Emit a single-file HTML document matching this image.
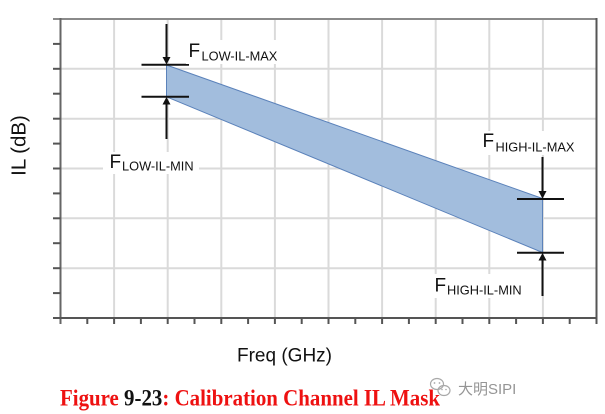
<!DOCTYPE html>
<html><head><meta charset="utf-8"><style>
html,body{margin:0;padding:0;background:#fff;}
svg{display:block;}
</style></head><body>
<svg width="605" height="414" viewBox="0 0 605 414" xmlns="http://www.w3.org/2000/svg">
<rect width="605" height="414" fill="#fff"/>
<!-- gridlines -->
<g stroke="#dadada" stroke-width="2">
<line x1="114.1" y1="19" x2="114.1" y2="318"/>
<line x1="167.7" y1="19" x2="167.7" y2="318"/>
<line x1="221.3" y1="19" x2="221.3" y2="318"/>
<line x1="274.9" y1="19" x2="274.9" y2="318"/>
<line x1="328.5" y1="19" x2="328.5" y2="318"/>
<line x1="382.1" y1="19" x2="382.1" y2="318"/>
<line x1="435.7" y1="19" x2="435.7" y2="318"/>
<line x1="489.3" y1="19" x2="489.3" y2="318"/>
<line x1="542.9" y1="19" x2="542.9" y2="318"/>
<line x1="60.5" y1="68.8" x2="596.5" y2="68.8"/>
<line x1="60.5" y1="118.7" x2="596.5" y2="118.7"/>
<line x1="60.5" y1="168.5" x2="596.5" y2="168.5"/>
<line x1="60.5" y1="218.3" x2="596.5" y2="218.3"/>
<line x1="60.5" y1="268.2" x2="596.5" y2="268.2"/>
</g>
<!-- frame -->
<line x1="53" y1="19" x2="596.5" y2="19" stroke="#8a8a8a" stroke-width="2"/>
<line x1="596.5" y1="18" x2="596.5" y2="324" stroke="#555" stroke-width="2"/>
<line x1="60.5" y1="18" x2="60.5" y2="324" stroke="#666" stroke-width="2"/>
<line x1="53" y1="318" x2="597.5" y2="318" stroke="#555" stroke-width="2"/>
<!-- y ticks -->
<g stroke="#555" stroke-width="2">
<line x1="53" y1="43.9" x2="60.5" y2="43.9"/>
<line x1="53" y1="68.8" x2="60.5" y2="68.8"/>
<line x1="53" y1="93.7" x2="60.5" y2="93.7"/>
<line x1="53" y1="118.7" x2="60.5" y2="118.7"/>
<line x1="53" y1="143.6" x2="60.5" y2="143.6"/>
<line x1="53" y1="168.5" x2="60.5" y2="168.5"/>
<line x1="53" y1="193.4" x2="60.5" y2="193.4"/>
<line x1="53" y1="218.3" x2="60.5" y2="218.3"/>
<line x1="53" y1="243.2" x2="60.5" y2="243.2"/>
<line x1="53" y1="268.2" x2="60.5" y2="268.2"/>
<line x1="53" y1="293.1" x2="60.5" y2="293.1"/>
</g>
<!-- x ticks -->
<g stroke="#555" stroke-width="2">
<line x1="87.3" y1="318" x2="87.3" y2="324"/>
<line x1="114.1" y1="318" x2="114.1" y2="324"/>
<line x1="140.9" y1="318" x2="140.9" y2="324"/>
<line x1="167.7" y1="318" x2="167.7" y2="324"/>
<line x1="194.5" y1="318" x2="194.5" y2="324"/>
<line x1="221.3" y1="318" x2="221.3" y2="324"/>
<line x1="248.1" y1="318" x2="248.1" y2="324"/>
<line x1="274.9" y1="318" x2="274.9" y2="324"/>
<line x1="301.7" y1="318" x2="301.7" y2="324"/>
<line x1="328.5" y1="318" x2="328.5" y2="324"/>
<line x1="355.3" y1="318" x2="355.3" y2="324"/>
<line x1="382.1" y1="318" x2="382.1" y2="324"/>
<line x1="408.9" y1="318" x2="408.9" y2="324"/>
<line x1="435.7" y1="318" x2="435.7" y2="324"/>
<line x1="462.5" y1="318" x2="462.5" y2="324"/>
<line x1="489.3" y1="318" x2="489.3" y2="324"/>
<line x1="516.1" y1="318" x2="516.1" y2="324"/>
<line x1="542.9" y1="318" x2="542.9" y2="324"/>
<line x1="569.7" y1="318" x2="569.7" y2="324"/>
<line x1="596.5" y1="318" x2="596.5" y2="324"/>
</g>
<!-- band -->
<polygon points="166.5,65 542.5,198.5 542.5,252.5 166.5,96.8" fill="#a2bddd" stroke="#5b82ba" stroke-width="1"/>
<!-- markers -->
<g stroke="#111" stroke-width="2" fill="none">
<line x1="141.5" y1="64.8" x2="189" y2="64.8"/>
<line x1="141.5" y1="96.8" x2="189" y2="96.8"/>
<line x1="166.5" y1="24" x2="166.5" y2="58"/>
<line x1="166.5" y1="104" x2="166.5" y2="139"/>
<line x1="517" y1="199" x2="564" y2="199"/>
<line x1="517" y1="252.7" x2="564" y2="252.7"/>
<line x1="542.5" y1="157" x2="542.5" y2="192"/>
<line x1="542.5" y1="260" x2="542.5" y2="296"/>
</g>
<g fill="#111">
<polygon points="162.5,57 170.5,57 166.5,64.5"/>
<polygon points="162.5,104.5 170.5,104.5 166.5,97"/>
<polygon points="538.5,191 546.5,191 542.5,198.7"/>
<polygon points="538.5,260.5 546.5,260.5 542.5,253"/>
</g>
<!-- labels -->
<g font-family="'Liberation Sans', Arial, sans-serif" fill="#111">
<rect x="186" y="40" width="96" height="24" fill="#fff"/>
<text x="188.5" y="57" font-size="19">F</text>
<text x="201.5" y="60.5" font-size="12.8">LOW-IL-MAX</text>
<rect x="103" y="152" width="96" height="22" fill="#fff"/>
<text x="109.5" y="168" font-size="19">F</text>
<text x="122" y="170.5" font-size="12.8">LOW-IL-MIN</text>
<rect x="480" y="131" width="100" height="24" fill="#fff"/>
<text x="482.5" y="147" font-size="19">F</text>
<text x="495.5" y="151.5" font-size="12.8">HIGH-IL-MAX</text>
<rect x="431" y="274" width="94" height="24" fill="#fff"/>
<text x="434.5" y="291.5" font-size="19">F</text>
<text x="447" y="294.5" font-size="12.8">HIGH-IL-MIN</text>
<text x="284.5" y="361.5" font-size="19" text-anchor="middle">Freq (GHz)</text>
<text transform="translate(25.5,145.5) rotate(-90)" font-size="20.5" text-anchor="middle">IL (dB)</text>
</g>
<!-- caption -->
<text x="60" y="405.5" font-family="'Liberation Serif', Garamond, serif" font-weight="bold" font-size="23" textLength="380" lengthAdjust="spacingAndGlyphs" fill="#ee1111">Figure <tspan fill="#111">9-23</tspan>: Calibration Channel IL Mask</text>
<!-- watermark -->
<g fill="none" stroke="#9a9a9a" stroke-width="1.2" opacity="0.85">
<ellipse cx="437" cy="384" rx="6.5" ry="5.5"/>
<ellipse cx="444" cy="390.5" rx="6" ry="5"/>
</g>
<g fill="#9a9a9a" opacity="0.85">
<circle cx="434.5" cy="383" r="0.9"/><circle cx="439.5" cy="383" r="0.9"/>
<circle cx="442" cy="389.5" r="0.8"/><circle cx="446" cy="389.5" r="0.8"/>
</g>
<text x="458" y="394" font-family="'Liberation Sans', 'Noto Sans CJK SC', sans-serif" font-size="15" fill="#8a8a8a" opacity="0.9">大明SIPI</text>
</svg>
</body></html>
